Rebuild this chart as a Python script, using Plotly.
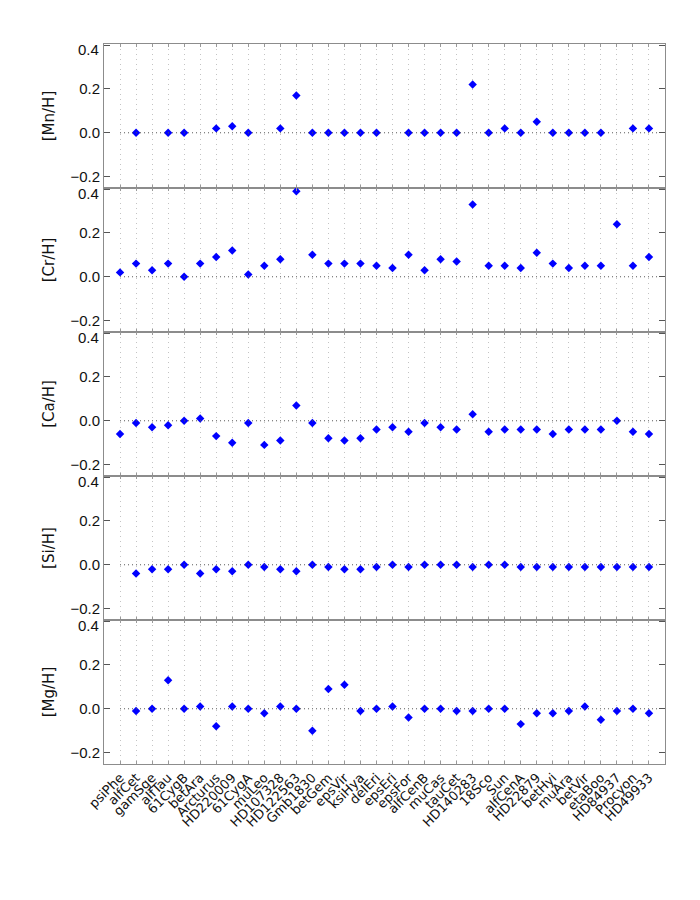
import plotly.graph_objects as go
from plotly.subplots import make_subplots

stars = ["psiPhe", "alfCet", "gamSge", "alfTau", "61CygB", "betAra", "Arcturus", "HD220009",
         "61CygA", "muLeo", "HD107328", "HD122563", "Gmb1830", "betGem", "epsVir", "ksiHya",
         "delEri", "epsEri", "epsFor", "alfCenB", "muCas", "tauCet", "HD140283", "18Sco",
         "Sun", "alfCenA", "HD22879", "betHyi", "muAra", "betVir", "etaBoo", "HD84937",
         "Procyon", "HD49933"]

mn_h = [None, 0.0, None, 0.0, 0.0, None, 0.02, 0.03, 0.0, None, 0.02, 0.17, 0.0, 0.0, 0.0, 0.0,
        0.0, None, 0.0, 0.0, 0.0, 0.0, 0.22, 0.0, 0.02, 0.0, 0.05, 0.0, 0.0, 0.0, 0.0, None,
        0.02, 0.02]
cr_h = [0.02, 0.06, 0.03, 0.06, 0.0, 0.06, 0.09, 0.12, 0.01, 0.05, 0.08, 0.39, 0.10, 0.06, 0.06, 0.06,
        0.05, 0.04, 0.10, 0.03, 0.08, 0.07, 0.33, 0.05, 0.05, 0.04, 0.11, 0.06, 0.04, 0.05, 0.05, 0.24,
        0.05, 0.09]
ca_h = [-0.06, -0.01, -0.03, -0.02, 0.0, 0.01, -0.07, -0.10, -0.01, -0.11, -0.09, 0.07, -0.01, -0.08,
        -0.09, -0.08, -0.04, -0.03, -0.05, -0.01, -0.03, -0.04, 0.03, -0.05, -0.04, -0.04, -0.04,
        -0.06, -0.04, -0.04, -0.04, 0.0, -0.05, -0.06]
si_h = [None, -0.04, -0.02, -0.02, 0.0, -0.04, -0.02, -0.03, 0.0, -0.01, -0.02, -0.03, 0.0, -0.01,
        -0.02, -0.02, -0.01, 0.0, -0.01, 0.0, 0.0, 0.0, -0.01, 0.0, 0.0, -0.01, -0.01, -0.01, -0.01,
        -0.01, -0.01, -0.01, -0.01, -0.01]
mg_h = [None, -0.01, 0.0, 0.13, 0.0, 0.01, -0.08, 0.01, 0.0, -0.02, 0.01, 0.0, -0.10, 0.09, 0.11,
        -0.01, 0.0, 0.01, -0.04, 0.0, 0.0, -0.01, -0.01, 0.0, 0.0, -0.07, -0.02, -0.02, -0.01, 0.01,
        -0.05, -0.01, 0.0, -0.02]

panels = [("[Mn/H]", mn_h), ("[Cr/H]", cr_h), ("[Ca/H]", ca_h), ("[Si/H]", si_h), ("[Mg/H]", mg_h)]
y_ticks = [-0.2, 0.0, 0.2, 0.4]
y_ticktext = ["\u22120.2", "0.0", "0.2", ""]
top_label = "0.4"
y_range = [-0.252, 0.405]

xpos = list(range(1, len(stars) + 1))

fig = make_subplots(rows=5, cols=1, shared_xaxes=True, vertical_spacing=0)

font_family = "Liberation Sans, Arial, sans-serif"
title_family = "DejaVu Sans, sans-serif"
frame_color = "#8c8c8c"

for i, (label, vals) in enumerate(panels, start=1):
    fig.add_trace(go.Scatter(x=xpos, y=vals, mode="markers",
                             marker=dict(symbol="diamond", size=6.5, color="#0000ff"),
                             showlegend=False, hoverinfo="skip"), row=i, col=1)
    fig.add_shape(type="line", x0=1, x1=34.6, y0=0, y1=0,
                  line=dict(color="#555555", width=1, dash="1px,3px"), row=i, col=1)
    yref = "y" if i == 1 else f"y{i}"
    fig.add_annotation(text=top_label, xref="paper", x=0, xanchor="right", xshift=-3,
                       yref=yref, y=0.4, yanchor="middle", yshift=-4, showarrow=False,
                       font=dict(family=font_family, size=15, color="#111111"))
    fig.update_yaxes(range=y_range, tickvals=y_ticks, ticktext=y_ticktext,
                     ticks="inside", ticklen=6, tickcolor="#555555", tickwidth=1,
                     mirror="allticks", showline=True, linecolor=frame_color, linewidth=1,
                     showgrid=False, zeroline=False,
                     tickfont=dict(family=font_family, size=15, color="#111111"),
                     title=dict(text=label, standoff=12,
                                font=dict(family=title_family, size=15, color="#111111")),
                     row=i, col=1)
    fig.update_xaxes(range=[0, 35], tickvals=xpos, ticktext=stars,
                     ticks="inside", ticklen=3, tickcolor="#999999", tickwidth=1,
                     mirror="allticks", showline=True, linecolor=frame_color, linewidth=1,
                     showgrid=True, gridcolor="#c4c4c4", griddash="1px,4px", gridwidth=1,
                     zeroline=False, row=i, col=1)

fig.update_xaxes(showticklabels=True, tickangle=-45,
                 tickfont=dict(family=title_family, size=13, color="#111111"), row=5, col=1)

fig.update_layout(width=700, height=900,
                  margin=dict(l=96, r=43, t=36, b=144),
                  plot_bgcolor="white", paper_bgcolor="white",
                  font=dict(family=font_family))

fig.write_html("out.html")
